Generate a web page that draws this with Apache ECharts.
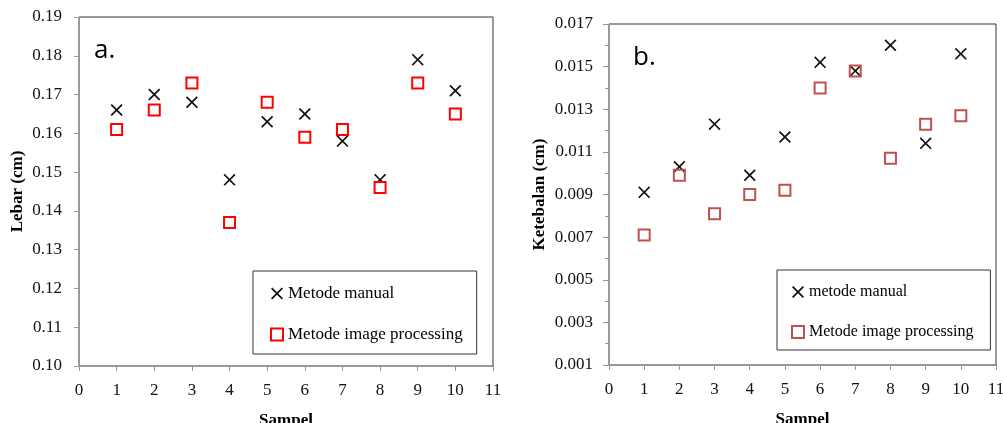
<!DOCTYPE html>
<html>
<head>
<meta charset="utf-8">
<script src="https://cdn.jsdelivr.net/npm/echarts@6/dist/echarts.min.js"></script>
<style>
  html, body { margin: 0; padding: 0; background: #fff; }
  #chart { width: 1003px; height: 423px; }
</style>
</head>
<body>
<div id="chart"></div>
<script>
// sample numbers 1..10
var samples = [1, 2, 3, 4, 5, 6, 7, 8, 9, 10];

// a. Lebar (cm)
var lebarManual = [0.166, 0.170, 0.168, 0.148, 0.163, 0.165, 0.158, 0.148, 0.179, 0.171];
var lebarImage  = [0.161, 0.166, 0.173, 0.137, 0.168, 0.159, 0.161, 0.146, 0.173, 0.165];

// b. Ketebalan (cm)
var tebalManual = [0.0091, 0.0103, 0.0123, 0.0099, 0.0117, 0.0152, 0.0148, 0.0160, 0.0114, 0.0156];
var tebalImage  = [0.0071, 0.0099, 0.0081, 0.0090, 0.0092, 0.0140, 0.0148, 0.0107, 0.0123, 0.0127];

var lebarTicks = ['0.10', '0.11', '0.12', '0.13', '0.14', '0.15', '0.16', '0.17', '0.18', '0.19'];
var tebalTicks = ['0.001', '0.003', '0.005', '0.007', '0.009', '0.011', '0.013', '0.015', '0.017'];

function pairs(ys) {
  return samples.map(function (x, i) { return [x, ys[i]]; });
}

var crossPath = 'path://M0,1L1,0L5,4L9,0L10,1L6,5L10,9L9,10L5,6L1,10L0,9L4,5Z';
var serif = '"Liberation Serif", "DejaVu Serif", serif';

function xAxisFor(gridIndex) {
  return {
    type: 'value', gridIndex: gridIndex, min: 0, max: 11, interval: 1,
    name: 'Sampel', nameLocation: 'middle', nameGap: 46,
    nameTextStyle: { fontFamily: serif, fontWeight: 'bold', fontSize: 17, color: '#000' },
    axisLine: { lineStyle: { color: '#999' } },
    axisTick: { show: true, length: 5, lineStyle: { color: '#999' } },
    axisLabel: { margin: 16, fontFamily: serif, fontSize: 17, color: '#111' },
    splitLine: { show: false }
  };
}

var myChart = echarts.init(document.getElementById('chart'));
option = {
  animation: false,
  title: [
    { text: 'a.', left: 89, top: 33, textStyle: { fontFamily: '"Open Sans", sans-serif', fontWeight: 'normal', fontSize: 26, color: '#000' } },
    { text: 'b.', left: 628, top: 40, textStyle: { fontFamily: '"Open Sans", sans-serif', fontWeight: 'normal', fontSize: 26, color: '#000' } }
  ],
  grid: [
    { left: 79, top: 17, width: 414, height: 349, outerBoundsMode: 'none', show: true, borderColor: '#333', borderWidth: 1 },
    { left: 609, top: 24, width: 387, height: 341, outerBoundsMode: 'none', show: true, borderColor: '#333', borderWidth: 1 }
  ],
  xAxis: [xAxisFor(0), xAxisFor(1)],
  yAxis: [
    {
      type: 'value', gridIndex: 0, min: 0.10, max: 0.19, interval: 0.01,
      name: 'Lebar (cm)', nameLocation: 'middle', nameGap: 53,
      nameTextStyle: { fontFamily: serif, fontWeight: 'bold', fontSize: 17, color: '#000' },
      axisLine: { show: true, lineStyle: { color: '#999' } },
      axisTick: { show: true, length: 5, lineStyle: { color: '#999' } },
      axisLabel: {
        margin: 17, fontFamily: serif, fontSize: 17, color: '#111',
        formatter: function (v) { return lebarTicks[Math.round((v - 0.10) / 0.01)]; }
      },
      splitLine: { show: false }
    },
    {
      type: 'value', gridIndex: 1, min: 0.001, max: 0.017, interval: 0.002,
      name: 'Ketebalan (cm)', nameLocation: 'middle', nameGap: 61,
      nameTextStyle: { fontFamily: serif, fontWeight: 'bold', fontSize: 17, color: '#000' },
      axisLine: { show: true, lineStyle: { color: '#999' } },
      axisTick: { show: true, length: 6, lineStyle: { color: '#999' } },
      minorTick: { show: true, splitNumber: 2, length: 4, lineStyle: { color: '#999' } },
      axisLabel: {
        margin: 16, fontFamily: serif, fontSize: 17, color: '#111',
        formatter: function (v) { return tebalTicks[Math.round((v - 0.001) / 0.002)]; }
      },
      splitLine: { show: false }
    }
  ],
  legend: [
    {
      orient: 'vertical', left: 253, top: 271,
      padding: [14, 14, 11, 17], itemGap: 24, itemWidth: 12, itemHeight: 12,
      borderColor: '#333', borderWidth: 1,
      textStyle: { fontFamily: serif, fontSize: 17, color: '#000' },
      data: ['Metode manual', 'Metode image processing']
    },
    {
      orient: 'vertical', left: 777, top: 270,
      padding: [14, 17, 10, 14], itemGap: 24, itemWidth: 12, itemHeight: 12,
      borderColor: '#333', borderWidth: 1,
      textStyle: { fontFamily: serif, fontSize: 16, color: '#000' },
      data: [
        'metode manual',
        { name: 'Metode image processing', itemStyle: { color: '#fff', borderColor: '#c0504d', borderWidth: 2 } }
      ]
    }
  ],
  series: [
    {
      name: 'Metode manual', type: 'scatter', xAxisIndex: 0, yAxisIndex: 0,
      symbol: crossPath, symbolSize: 12,
      itemStyle: { color: '#111', opacity: 1 },
      data: pairs(lebarManual)
    },
    {
      name: 'Metode image processing', type: 'scatter', xAxisIndex: 0, yAxisIndex: 0,
      symbol: 'rect', symbolSize: 11,
      itemStyle: { color: '#fff', borderColor: '#ff0000', borderWidth: 2, opacity: 1 },
      data: pairs(lebarImage)
    },
    {
      name: 'metode manual', type: 'scatter', xAxisIndex: 1, yAxisIndex: 1,
      symbol: crossPath, symbolSize: 12,
      itemStyle: { color: '#111', opacity: 1 },
      data: pairs(tebalManual)
    },
    {
      name: 'Metode image processing', type: 'scatter', xAxisIndex: 1, yAxisIndex: 1,
      symbol: 'rect', symbolSize: 11,
      itemStyle: { color: 'rgba(255,255,255,0)', borderColor: '#c0504d', borderWidth: 2, opacity: 1 },
      data: pairs(tebalImage)
    }
  ]
};
myChart.setOption(option);
</script>
</body>
</html>
